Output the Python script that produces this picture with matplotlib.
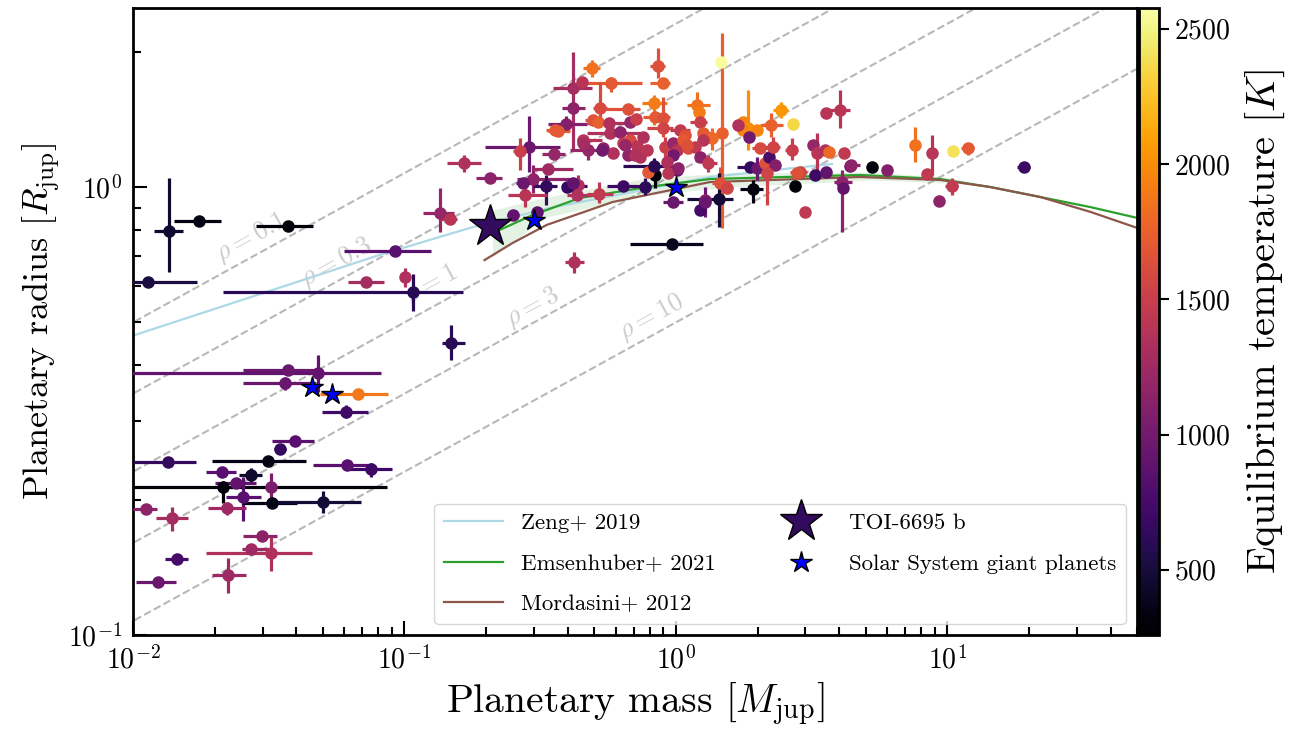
import numpy as np
import matplotlib.pyplot as plt
import matplotlib.colors as mcolors
from matplotlib.cm import ScalarMappable
from matplotlib.lines import Line2D
from matplotlib.ticker import NullFormatter

plt.rcParams['font.family'] = 'serif'
plt.rcParams['font.serif'] = ['cmr10']
plt.rcParams['mathtext.fontset'] = 'cm'
plt.rcParams['axes.unicode_minus'] = False
plt.rcParams['axes.formatter.use_mathtext'] = True

# Known transiting giants: mass / radius in Jupiter units, asymmetric errors, Teq in K
mass = [0.0373, 0.0482, 0.0364, 0.0677, 0.0611, 0.0396, 0.0349, 0.0315, 0.01346, 0.0616,
        0.0755, 0.0213, 0.0272, 0.0240, 0.0215, 0.0323, 0.0255, 0.0326, 0.0503, 0.01117,
        0.01393, 0.0222, 0.0299, 0.0272, 0.0323, 0.01453, 0.0224, 0.01236, 0.01135, 0.01358,
        0.01751, 0.0373, 0.0926, 0.0724, 0.1009, 0.1079, 0.1358, 0.1466, 0.1651, 0.1479,
        0.2059, 0.2868, 0.2657, 0.3546, 0.2968, 0.3371, 0.2725, 0.3314, 0.2772, 0.4168,
        0.435, 0.4312, 0.5199, 0.2503, 0.307, 0.6373, 0.7683, 0.8366, 0.7884, 1.0085,
        0.9748, 1.226, 1.279, 0.9666, 0.4203, 0.4898, 0.4168, 0.4499, 0.5756, 0.8583,
        0.8954, 1.466, 1.4784, 0.4168, 0.5243, 0.6651, 0.8295, 0.8366, 0.8954, 1.1956,
        1.216, 1.226, 0.3577, 0.3928, 0.494, 0.5155, 0.5659, 0.6765, 0.7117, 0.8954,
        1.0346, 1.0794, 1.258, 1.358, 1.258, 0.5707, 0.6214, 0.4537, 0.4735, 0.5379,
        0.5855, 0.6373, 0.6765, 0.7178, 0.6651, 0.7363, 0.9108, 0.9748, 1.0085, 1.1073,
        1.175, 0.9748, 1.226, 1.3125, 1.0612, 0.8295, 0.9344, 1.017, 1.4535, 1.5428,
        1.441, 1.279, 1.9237, 2.748, 2.992, 1.876, 1.990, 2.13, 2.204, 2.319,
        2.167, 1.7667, 1.844, 1.7667, 1.990, 2.242, 2.44, 2.702, 1.693, 1.86,
        2.042, 2.28, 2.679, 3.203, 3.314, 3.547, 3.669, 3.258, 3.577, 4.17,
        4.385, 4.03, 3.577, 2.869, 2.795, 4.099, 4.134, 0.3961, 0.4168, 4.423,
        5.287, 6.006, 7.619, 8.804, 8.438, 10.52, 11.95, 10.43, 9.343, 19.24,
        0.7553, 0.7816, 1.098, 0.9264, 0.6483, 0.7058, 0.5333, 0.3669, 0.4537]
mass_err_lo = [0.0118, 0.045, 0.0109, 0.019, 0.0113, 0.007, 0.0018, 0.0119, 0.0034, 0.0155,
               0.0128, 0.0027, 0.0026, 0.0039, 0.0213, 0, 0.0035, 0.0074, 0.0177, 0.0012,
               0.0018, 0.0033, 0.0044, 0.002, 0.0137, 0.0014, 0.0028, 0.0021, 0.0015, 0.0016,
               0.0034, 0.0089, 0.0325, 0.0103, 0, 0.0864, 0.0183, 0.011, 0.022, 0.0098,
               0.023, 0.0895, 0.015, 0.032, 0.038, 0.04, 0.014, 0.035, 0.037, 0.034,
               0, 0.035, 0.05, 0.012, 0, 0.081, 0, 0, 0, 0,
               0.08, 0, 0, 0.29, 0.031, 0.036, 0.065, 0, 0.126, 0.056,
               0.094, 0, 0, 0.037, 0.03, 0.154, 0.081, 0.081, 0, 0.098,
               0, 0.1, 0.024, 0.0557, 0.032, 0, 0.097, 0, 0, 0.114,
               0.084, 0, 0.052, 0.057, 0, 0.1, 0, 0.02, 0.067, 0,
               0, 0, 0, 0, 0, 0, 0, 0, 0, 0,
               0, 0, 0, 0.055, 0, 0.19, 0, 0, 0.096, 0,
               0.343, 0, 0.2, 0, 0, 0.197, 0, 0, 0, 0,
               0, 0, 0.165, 0, 0, 0.2, 0.16, 0, 0, 0,
               0.135, 0.15, 0.154, 0, 0, 0.15, 0, 0, 0, 0,
               0, 0.33, 0, 0.235, 0, 0.27, 0, 0, 0, 0.217,
               0, 0, 0, 0, 0, 0, 0.69, 0.6, 0, 1.1,
               0, 0, 0, 0, 0, 0, 0, 0.03, 0]
mass_err_hi = [0.0101, 0.0341, 0.011, 0.0196, 0.0126, 0.007, 0.0018, 0.012, 0.0036, 0.0139,
               0.0148, 0.0027, 0.0027, 0.0044, 0.065, 0, 0.0042, 0.0077, 0.0191, 0.0011,
               0.002, 0.0039, 0.0041, 0.0043, 0.0135, 0.0014, 0.0037, 0.0021, 0.0058, 0.0017,
               0.0036, 0.0088, 0.0331, 0.012, 0, 0.0558, 0.0171, 0.009, 0.0256, 0.0186,
               0.022, 0.0865, 0.016, 0.035, 0.12, 0.08, 0.037, 0.032, 0.057, 0.053,
               0, 0.063, 0.066, 0.015, 0, 0.118, 0, 0, 0, 0,
               0.086, 0, 0, 0.29, 0.037, 0.035, 0.073, 0, 0.173, 0.053,
               0.055, 0, 0, 0.045, 0.032, 0.071, 0.097, 0.114, 0, 0.14,
               0, 0.075, 0.038, 0.0766, 0.044, 0, 0.111, 0, 0, 0.079,
               0.091, 0, 0.1, 0.059, 0, 0.166, 0, 0.08, 0.083, 0,
               0, 0, 0, 0, 0, 0, 0, 0, 0, 0,
               0, 0, 0, 0.105, 0, 0.18, 0, 0, 0.128, 0,
               0.182, 0, 0.17, 0, 0, 0.114, 0, 0, 0, 0,
               0, 0, 0.198, 0, 0, 0.24, 0.15, 0, 0, 0,
               0.18, 0.14, 0.116, 0, 0, 0.22, 0, 0, 0, 0,
               0, 0.355, 0, 0.174, 0, 0.36, 0, 0, 0, 0.35,
               0, 0, 0, 0, 0, 0, 0.63, 0.55, 0, 1.0,
               0, 0, 0, 0, 0, 0, 0, 0.04, 0]
radius = [0.390, 0.384, 0.365, 0.345, 0.315, 0.271, 0.260, 0.2445, 0.2433, 0.2395,
          0.2347, 0.2311, 0.2275, 0.2184, 0.214, 0.214, 0.2032, 0.197, 0.198, 0.191,
          0.1824, 0.192, 0.1663, 0.1556, 0.1524, 0.1477, 0.1361, 0.1313, 0.614, 0.798,
          0.840, 0.818, 0.720, 0.614, 0.630, 0.583, 0.875, 0.848, 1.131, 0.449,
          1.047, 1.228, 1.203, 1.185, 1.042, 1.097, 1.021, 1.005, 0.960, 1.005,
          1.010, 0.960, 0.965, 0.866, 0.880, 1.005, 1.0, 1.064, 1.080, 1.091,
          0.926, 0.888, 0.935, 0.746, 0.680, 1.844, 1.663, 1.716, 1.707, 1.863,
          1.707, 1.901, 1.320, 1.501, 1.501, 1.493, 1.540, 1.433, 1.426, 1.524,
          1.470, 1.397, 1.340, 1.382, 1.411, 1.397, 1.390, 1.397, 1.419, 1.354,
          1.340, 1.307, 1.320, 1.287, 1.273, 1.320, 1.327, 1.273, 1.209, 1.222,
          1.191, 1.254, 1.273, 1.235, 1.179, 1.167, 1.228, 1.254, 1.209, 1.222,
          1.228, 1.179, 1.167, 1.131, 1.273, 1.114, 1.075, 1.103, 1.021, 0.995,
          0.940, 0.926, 0.990, 1.005, 0.880, 1.108, 1.103, 1.131, 1.167, 1.120,
          1.075, 1.397, 1.354, 1.340, 1.340, 1.375, 1.485, 1.382, 1.375, 1.293,
          1.222, 1.228, 1.209, 1.241, 1.191, 1.209, 1.197, 1.064, 1.080, 1.191,
          1.114, 1.485, 1.463, 1.080, 1.075, 1.026, 0.995, 1.0, 1.021, 1.120,
          1.108, 1.091, 1.241, 1.191, 1.069, 1.203, 1.222, 1.005, 0.930, 1.108,
          1.293, 1.209, 1.241, 1.137, 1.241, 1.179, 1.209, 1.334, 1.254]
radius_err_lo = [0, 0.035, 0.013, 0, 0.010, 0, 0, 0, 0, 0,
                 0.0095, 0, 0.008, 0, 0.017, 0.017, 0.0236, 0, 0.0108, 0,
                 0.0118, 0.0067, 0, 0, 0.0134, 0, 0.012, 0, 0, 0.152,
                 0, 0, 0, 0, 0.032, 0.054, 0.081, 0, 0.051, 0.038,
                 0, 0.148, 0.112, 0, 0.072, 0, 0, 0.093, 0.058, 0,
                 0.05, 0, 0.044, 0, 0, 0, 0.04, 0.069, 0, 0,
                 0, 0.022, 0, 0, 0.037, 0.084, 0.454, 0, 0.077, 0.109,
                 0, 0, 0.51, 0, 0.111, 0, 0.165, 0, 0.133, 0.113,
                 0, 0, 0, 0.055, 0, 0, 0, 0, 0, 0,
                 0, 0, 0, 0.078, 0, 0, 0, 0, 0.06, 0,
                 0, 0, 0, 0, 0, 0, 0.061, 0, 0, 0,
                 0, 0, 0, 0.051, 0, 0.05, 0, 0, 0.086, 0,
                 0.126, 0.069, 0.069, 0, 0, 0, 0.066, 0, 0, 0,
                 0.163, 0, 0.145, 0, 0, 0.082, 0.059, 0, 0, 0,
                 0, 0.049, 0.06, 0, 0.138, 0, 0, 0, 0, 0,
                 0, 0.131, 0, 0, 0, 0.232, 0, 0, 0, 0,
                 0, 0, 0.104, 0.127, 0, 0, 0.043, 0.045, 0, 0,
                 0, 0, 0, 0, 0, 0, 0, 0, 0]
radius_err_hi = [0, 0.038, 0.012, 0, 0.011, 0, 0, 0, 0, 0,
                 0.0073, 0, 0.0085, 0, 0.0066, 0.016, 0.022, 0, 0.0116, 0,
                 0.0106, 0.006, 0, 0, 0.013, 0, 0.0124, 0, 0, 0.249,
                 0, 0, 0, 0, 0.029, 0.056, 0.12, 0, 0.048, 0.043,
                 0, 0.212, 0.084, 0, 0.078, 0, 0, 0.059, 0.061, 0,
                 0.054, 0, 0.061, 0, 0, 0, 0.047, 0.027, 0, 0,
                 0, 0.047, 0, 0, 0.036, 0.077, 0.338, 0, 0.053, 0.18,
                 0, 0, 0.887, 0, 0.206, 0, 0.064, 0, 0.162, 0.106,
                 0, 0, 0, 0.058, 0, 0, 0, 0, 0, 0,
                 0, 0, 0, 0.067, 0, 0, 0, 0, 0.064, 0,
                 0, 0, 0, 0, 0, 0, 0.065, 0, 0, 0,
                 0, 0, 0, 0.048, 0, 0.047, 0, 0, 0.087, 0,
                 0.135, 0.074, 0.047, 0, 0, 0, 0.064, 0, 0, 0,
                 0.033, 0, 0.292, 0, 0, 0.088, 0.063, 0, 0, 0,
                 0, 0.065, 0.078, 0, 0.129, 0, 0, 0, 0, 0,
                 0, 0.161, 0, 0, 0, 0.065, 0, 0, 0, 0,
                 0, 0, 0.12, 0.116, 0, 0, 0.032, 0.042, 0, 0,
                 0, 0, 0, 0, 0, 0, 0, 0, 0]
teq = [950, 900, 950, 1880, 720, 850, 650, 350, 650, 850,
       700, 850, 450, 900, 300, 1050, 850, 350, 480, 1150,
       1300, 1250, 1150, 1250, 1350, 750, 1250, 950, 520, 450,
       330, 300, 850, 1300, 1350, 600, 1200, 1400, 1350, 600,
       1150, 950, 1500, 1200, 1150, 1250, 950, 650, 1400, 700,
       1350, 1350, 1450, 900, 900, 700, 620, 300, 1700, 900,
       950, 750, 1150, 380, 1350, 1850, 1300, 1400, 1700, 1650,
       1750, 2550, 1750, 1150, 1600, 1650, 1900, 1700, 1650, 1850,
       1900, 1500, 1700, 1100, 1650, 1750, 1350, 1200, 1500, 1550,
       1450, 1650, 1700, 1800, 1400, 1350, 1150, 1400, 1200, 1150,
       1350, 1450, 1600, 1400, 1150, 1350, 1500, 1200, 1400, 1600,
       1450, 1000, 1150, 1450, 1700, 600, 1400, 1150, 1650, 1550,
       480, 950, 320, 300, 1450, 650, 950, 1650, 750, 1100,
       1550, 1950, 2000, 1950, 1950, 1750, 2050, 2350, 1350, 1000,
       1600, 1550, 1500, 1200, 1400, 1350, 1800, 700, 900, 1450,
       950, 1400, 1400, 1550, 1650, 1150, 900, 650, 900, 1150,
       300, 1100, 1850, 1400, 1450, 2400, 1700, 1450, 1150, 700,
       1350, 1400, 1650, 1350, 1200, 1350, 1000, 1700, 1300]

# TOI-6695 b and the solar system giants
toi_mass, toi_radius, toi_teq = 0.206, 0.818, 640
ss_mass = [1.0, 0.299, 0.0457, 0.054]
ss_radius = [1.0, 0.843, 0.357, 0.346]

# Mass-radius relations
zeng_mass = [0.0099, 0.0808, 0.1738, 0.3428, 1.335, 3.76]
zeng_radius = [0.465, 0.705, 0.81, 0.898, 1.053, 1.126]
emsen_mass = [0.2242, 0.2968, 0.4422, 0.7816, 1.335, 4.775, 9.42, 14.41, 22.03, 33.7, 50.2]
emsen_radius = [0.802, 0.866, 0.945, 1.0, 1.042, 1.064, 1.042, 1.0, 0.950, 0.902, 0.853]
emsen_band_mass = [0.211, 0.3342, 0.7816, 1.582, 5.33, 10.2]
emsen_band_lo = [0.698, 0.857, 0.960, 1.0, 1.037, 1.02]
emsen_band_hi = [0.888, 0.950, 1.047, 1.075, 1.08, 1.05]
mord_mass = [0.1973, 0.2503, 0.3342, 0.5855, 1.335, 4.775, 9.42, 14.41, 22.03, 33.7, 50.2]
mord_radius = [0.687, 0.750, 0.823, 0.926, 1.026, 1.053, 1.037, 1.0, 0.950, 0.880, 0.810]

# iso-density lines (g/cm^3)
rho_values = [0.1, 0.3, 1, 3, 10]
rho_label_mass = [0.0272, 0.0561, 0.126, 0.297, 0.815]
rho_label_radius = [0.77, 0.677, 0.604, 0.54, 0.513]
M_jup_g = 1.898e30
R_jup_cm = 7.1492e9

fig = plt.figure(figsize=(13.01, 7.29), dpi=100)
ax = fig.add_axes([133/1301, 1 - 635/729, 1004/1301, 627/729])
cax = fig.add_axes([1139/1301, 1 - 635/729, 20/1301, 627/729])

ax.set_xscale('log')
ax.set_yscale('log')
ax.set_xlim(0.01, 50)
ax.set_ylim(0.1, 2.51)

cmap = plt.get_cmap('inferno')
norm = mcolors.Normalize(vmin=259, vmax=2577)

m_grid = np.logspace(-3, 2, 50)
for rho, lm, lr in zip(rho_values, rho_label_mass, rho_label_radius):
    r = (3 * m_grid * M_jup_g / (4 * np.pi * rho)) ** (1 / 3) / R_jup_cm
    ax.plot(m_grid, r, ls='--', color='0.72', lw=1.5, zorder=1)
    p1 = ax.transData.transform((m_grid[10], r[10]))
    p2 = ax.transData.transform((m_grid[40], r[40]))
    ang = np.degrees(np.arctan2(p2[1] - p1[1], p2[0] - p1[0]))
    ax.text(lm, lr, r'$\rho = %g$' % rho, rotation=ang, rotation_mode='anchor',
            ha='center', va='center', fontsize=19, color='0.8', zorder=1)

ax.fill_between(emsen_band_mass, emsen_band_lo, emsen_band_hi, color='tab:green',
                alpha=0.13, lw=0, zorder=2)
ax.plot(zeng_mass, zeng_radius, color='lightblue', lw=1.6, zorder=2)
ax.plot(emsen_mass, emsen_radius, color='tab:green', lw=1.6, zorder=2)
ax.plot(mord_mass, mord_radius, color='tab:brown', lw=1.6, zorder=2)

for i in range(len(mass)):
    c = cmap(norm(teq[i]))
    ax.errorbar(mass[i], radius[i],
                xerr=[[mass_err_lo[i]], [mass_err_hi[i]]],
                yerr=[[radius_err_lo[i]], [radius_err_hi[i]]],
                fmt='o', color=c, ms=8, elinewidth=2.3, capsize=0, zorder=3)

ax.plot(toi_mass, toi_radius, '*', ms=32, color=cmap(norm(toi_teq)),
        mec='k', mew=1, zorder=6)
ax.plot(ss_mass, ss_radius, '*', ms=16, color='blue', mec='k', mew=1, ls='none', zorder=5)

handles = [Line2D([], [], color='lightblue', lw=1.6),
           Line2D([], [], color='tab:green', lw=1.6),
           Line2D([], [], color='tab:brown', lw=1.6),
           Line2D([], [], marker='*', ms=32, color=cmap(norm(toi_teq)), mec='k', mew=1, ls='none'),
           Line2D([], [], marker='*', ms=16, color='blue', mec='k', mew=1, ls='none')]
labels = ['Zeng+ 2019', 'Emsenhuber+ 2021', 'Mordasini+ 2012', 'TOI-6695 b',
          'Solar System giant planets']
ax.legend(handles, labels, loc='lower right', ncol=2, fontsize=16.5, labelspacing=0.9,
          columnspacing=2.4, handlelength=2.6)

ax.tick_params(which='both', direction='in', labelsize=20, width=1.5, pad=8)
ax.tick_params(which='major', length=10)
ax.tick_params(which='minor', length=6)
ax.xaxis.set_minor_formatter(NullFormatter())
ax.yaxis.set_minor_formatter(NullFormatter())
for s in ax.spines.values():
    s.set_linewidth(2)

ax.set_xlabel(r'Planetary mass $[M_\mathrm{jup}]$', fontsize=28.5)
ax.set_ylabel(r'Planetary radius $[R_\mathrm{jup}]$', fontsize=26)

sm = ScalarMappable(norm=norm, cmap=cmap)
cb = fig.colorbar(sm, cax=cax)
cb.set_ticks([500, 1000, 1500, 2000, 2500])
cb.ax.tick_params(labelsize=20, length=7, width=1.5)
cb.outline.set_linewidth(2)
cb.set_label(r'Equilibrium temperature $[K]$', fontsize=29, labelpad=10)

fig.savefig('out.png', dpi=100)
